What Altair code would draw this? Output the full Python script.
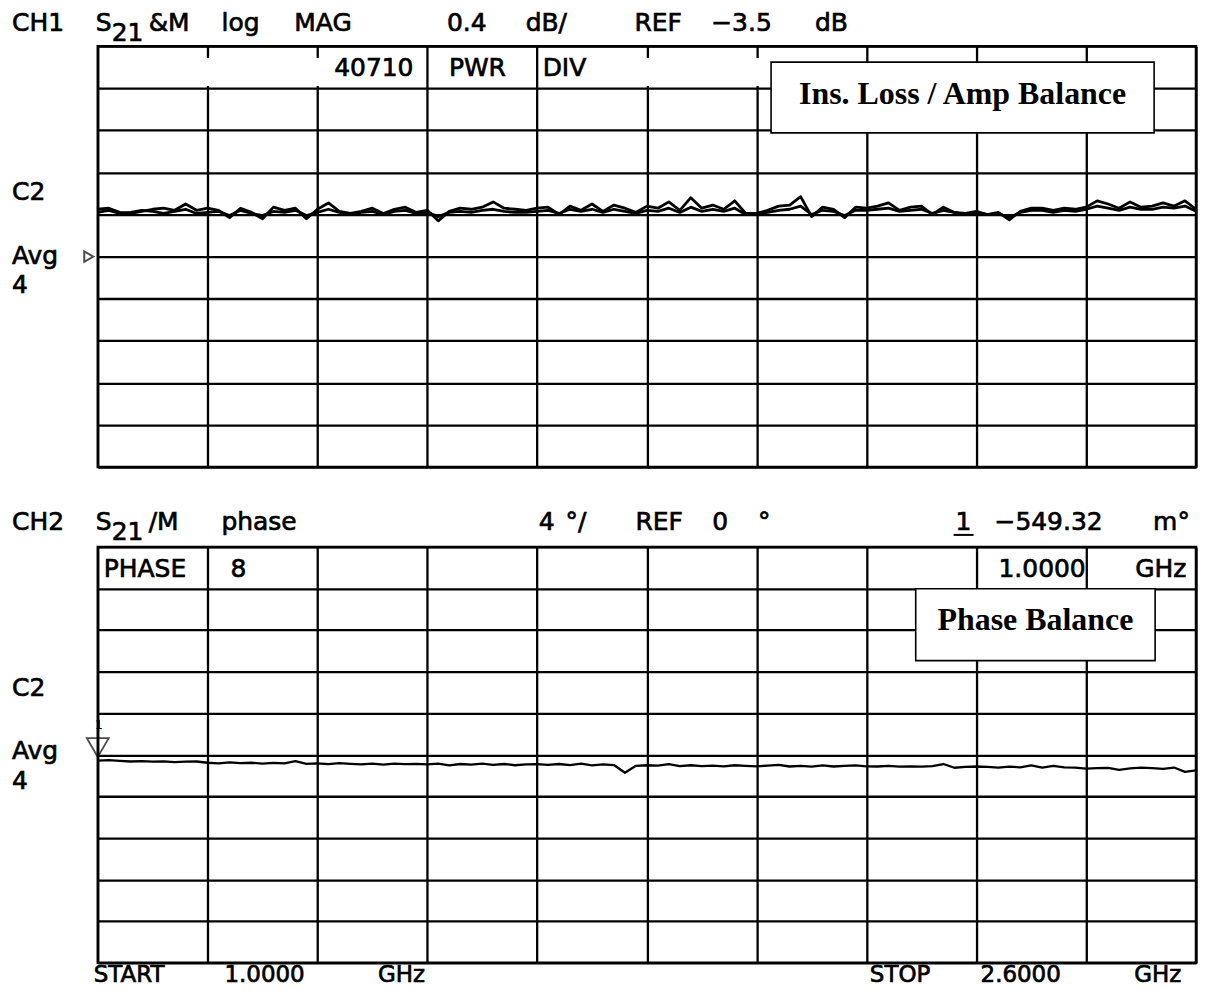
import altair as alt
import pandas as pd

# ---------------- data ----------------
START_GHZ = 1.0
STOP_GHZ = 2.6
N_POINTS = 101
freq_ghz = [round(START_GHZ + (STOP_GHZ - START_GHZ) * i / (N_POINTS - 1), 4) for i in range(N_POINTS)]

# CH1: S21 data trace (log MAG, dB)
mag_data = [
    -3.05, -3.04, -3.08, -3.09, -3.07, -3.05, -3.04, -3.06, -3.00, -3.06,
    -3.04, -3.06, -3.13, -3.04, -3.08, -3.14, -3.03, -3.06, -3.04, -3.14,
    -3.05, -2.99, -3.07, -3.09, -3.07, -3.04, -3.09, -3.05, -3.03, -3.08,
    -3.06, -3.16, -3.07, -3.04, -3.05, -3.03, -2.98, -3.04, -3.05, -3.06,
    -3.04, -3.03, -3.10, -3.02, -3.06, -3.00, -3.07, -3.01, -3.04, -3.08,
    -3.02, -3.04, -2.98, -3.06, -2.94, -3.04, -3.01, -3.05, -2.97, -3.09,
    -3.09, -3.06, -3.02, -3.01, -2.93, -3.12, -3.03, -3.05, -3.13, -3.03,
    -3.04, -3.02, -2.99, -3.06, -3.03, -3.02, -3.10, -3.03, -3.08, -3.09,
    -3.07, -3.10, -3.08, -3.15, -3.07, -3.04, -3.04, -3.06, -3.04, -3.05,
    -3.03, -2.97, -3.00, -3.04, -2.98, -3.03, -3.02, -2.99, -3.02, -2.97, -3.05,
]
# CH1: memory trace (M)
mag_memory = [
    -3.08, -3.06, -3.09, -3.08, -3.06, -3.07, -3.09, -3.07, -3.05, -3.09,
    -3.08, -3.07, -3.11, -3.06, -3.09, -3.11, -3.07, -3.08, -3.06, -3.11,
    -3.08, -3.05, -3.08, -3.10, -3.08, -3.07, -3.10, -3.07, -3.06, -3.09,
    -3.08, -3.12, -3.08, -3.07, -3.08, -3.06, -3.05, -3.07, -3.08, -3.08,
    -3.07, -3.06, -3.09, -3.05, -3.07, -3.05, -3.08, -3.05, -3.07, -3.09,
    -3.06, -3.07, -3.04, -3.08, -3.03, -3.07, -3.05, -3.07, -3.04, -3.10,
    -3.10, -3.08, -3.06, -3.05, -3.02, -3.10, -3.06, -3.07, -3.11, -3.06,
    -3.06, -3.05, -3.04, -3.07, -3.06, -3.05, -3.09, -3.06, -3.08, -3.10,
    -3.08, -3.10, -3.09, -3.13, -3.08, -3.06, -3.06, -3.08, -3.06, -3.07,
    -3.05, -3.02, -3.04, -3.06, -3.03, -3.05, -3.05, -3.03, -3.04, -3.02, -3.07,
]
# CH2: S21/M phase (degrees)
phase_deg = [
    -0.55, -0.50, -0.58, -0.64, -0.60, -0.66, -0.62, -0.70, -0.66, -0.64,
    -0.76, -0.82, -0.72, -0.80, -0.76, -0.84, -0.78, -0.82, -0.60, -0.86,
    -0.82, -0.90, -0.80, -0.86, -0.92, -0.84, -0.94, -0.84, -0.90, -0.86,
    -0.92, -0.84, -1.02, -0.88, -0.94, -0.84, -0.96, -0.88, -1.00, -0.92,
    -0.90, -0.96, -0.88, -0.98, -0.85, -1.02, -0.92, -0.98, -1.72, -1.05,
    -1.00, -1.04, -0.90, -1.08, -1.00, -1.08, -1.04, -1.10, -1.00, -1.06,
    -1.10, -1.04, -0.96, -1.12, -1.05, -1.14, -1.02, -1.12, -1.06, -1.02,
    -1.10, -1.12, -1.06, -1.14, -1.10, -1.14, -1.08, -0.88, -1.24, -1.16,
    -1.12, -1.16, -1.22, -1.14, -1.20, -1.00, -1.22, -1.06, -1.20, -1.22,
    -1.32, -1.28, -1.25, -1.44, -1.30, -1.22, -1.28, -1.34, -1.22, -1.64, -1.50,
]

MAG_REF, MAG_PER_DIV = -3.5, 0.4
PH_REF, PH_PER_DIV = 0.0, 4.0
N_DIV = 10
x_grid = [round(START_GHZ + (STOP_GHZ - START_GHZ) * k / N_DIV, 3) for k in range(N_DIV + 1)]
mag_grid = [round(MAG_REF + MAG_PER_DIV * (k - 5), 2) for k in range(N_DIV + 1)]
ph_grid = [round(PH_REF + PH_PER_DIV * (k - 5), 2) for k in range(N_DIV + 1)]

# ---------------- styling ----------------
FONT = "DejaVu Sans"
SERIF = "Liberation Serif"
W = 1101
H1, H2 = 422, 417


def label(txt, x, yc, size=25, align="left", font=FONT, weight="normal", stroke=0.7, cap=0.365):
    """Text whose cap-height centre sits at yc (alphabetic baseline)."""
    kw = dict(text=txt, align=align, baseline="alphabetic", font=font,
              fontSize=size, fontWeight=weight, color="black")
    if stroke > 0:
        kw.update(stroke="black", strokeWidth=stroke)
    return alt.Chart(alt.Data(values=[{}])).mark_text(**kw).encode(
        x=alt.value(x), y=alt.value(round(yc + cap * size, 1)))


def box(x1, x2, y1, y2, stroke=True):
    kw = dict(fill="white")
    if stroke:
        kw.update(stroke="black", strokeWidth=1.6)
    return alt.Chart(alt.Data(values=[{}])).mark_rect(**kw).encode(
        x=alt.value(x1), x2=alt.value(x2), y=alt.value(y1), y2=alt.value(y2))


def grid_axis(vals):
    return alt.Axis(values=vals, grid=True, labels=False, ticks=False,
                    domain=False, title="", gridColor="black",
                    gridWidth=2.3, gridOpacity=1)


def xenc():
    return alt.X("f:Q", scale=alt.Scale(domain=[START_GHZ, STOP_GHZ], nice=False, zero=False),
                 axis=grid_axis(x_grid))


# ---------------- CH1 panel ----------------
mag_df = pd.DataFrame({
    "f": freq_ghz * 2,
    "v": mag_data + mag_memory,
    "trace": ["data"] * N_POINTS + ["memory"] * N_POINTS,
})
yenc1 = alt.Y("v:Q", scale=alt.Scale(domain=[mag_grid[0], mag_grid[-1]], nice=False, zero=False),
              axis=grid_axis(mag_grid))
mag_lines = alt.Chart(mag_df).mark_line(color="black", strokeWidth=2.8, strokeJoin="round").encode(
    x=xenc(), y=yenc1, detail="trace:N")

ref_arrow = alt.Chart(alt.Data(values=[{}])).mark_point(
    shape="triangle-right", size=110, filled=False, color="black", strokeWidth=2
).encode(x=alt.value(-9), y=alt.value(H1 / 2))

top = alt.layer(
    box(54, 222, 12, 40, stroke=False),
    box(533, 676, 12, 40, stroke=False),
    mag_lines,
    box(675, 1059, 16, 87),
    label("Ins. Loss / Amp Balance", 867, 47, size=32, align="center", font=SERIF, weight="bold", stroke=0, cap=0.33),
    label("40710", 237, 21), label("PWR", 352, 21), label("DIV", 446, 21),
    label("CH1", -86, -24), label("S", -2, -24), label("21", 14, -14),
    label("&M", 51, -24), label("log", 124, -24), label("MAG", 197, -24),
    label("0.4", 350, -24), label("dB/", 429, -24),
    label("REF", 538, -24), label("\u22123.5", 615, -24), label("dB", 719, -24),
    label("C2", -86, 145), label("Avg", -86, 209), label("4", -86, 238),
    ref_arrow,
).properties(width=W, height=H1)

# ---------------- CH2 panel ----------------
ph_df = pd.DataFrame({"f": freq_ghz, "v": phase_deg})
yenc2 = alt.Y("v:Q", scale=alt.Scale(domain=[ph_grid[0], ph_grid[-1]], nice=False, zero=False),
              axis=grid_axis(ph_grid))
ph_line = alt.Chart(ph_df).mark_line(color="black", strokeWidth=2.3, strokeJoin="round").encode(
    x=xenc(), y=yenc2)
marker_df = pd.DataFrame({"f": [freq_ghz[0]], "v": [phase_deg[0]]})
marker = alt.Chart(marker_df).mark_point(
    shape="triangle-down", size=480, filled=False, color="black", strokeWidth=1.8, yOffset=-13
).encode(x=alt.X("f:Q"), y=alt.Y("v:Q"))
marker_num = alt.Chart(marker_df).mark_text(
    text="1", fontSize=13, font=FONT, fill="black", yOffset=-36, dx=1
).encode(x=alt.X("f:Q"), y=alt.Y("v:Q"))

underline = alt.Chart(alt.Data(values=[{}])).mark_rule(color="black", strokeWidth=2).encode(
    x=alt.value(858), x2=alt.value(878), y=alt.value(-12))

bottom = alt.layer(
    ph_line,
    marker, marker_num,
    box(820, 1060, 42, 114),
    label("Phase Balance", 940, 73, size=32, align="center", font=SERIF, weight="bold", stroke=0, cap=0.33),
    label("PHASE", 6, 21), label("8", 133, 21), label("1.0000", 903, 21), label("GHz", 1040, 21),
    label("CH2", -86, -26), label("S", -2, -26), label("21", 14, -16),
    label("/M", 51, -26), label("phase", 124, -26),
    label("4", 442, -26), label("\u00b0/", 469, -26),
    label("REF", 539, -26), label("0", 616, -26), label("\u00b0", 662, -26),
    label("1", 860, -26), underline, label("\u2212549.32", 899, -26), label("m\u00b0", 1058, -26),
    label("C2", -86, 140), label("Avg", -86, 204), label("4", -86, 234),
    label("START", -4, 428, size=23), label("1.0000", 127, 428, size=23), label("GHz", 281, 428, size=23),
    label("STOP", 774, 428, size=23), label("2.6000", 885, 428, size=23), label("GHz", 1039, 428, size=23),
).properties(width=W, height=H2)

chart = alt.vconcat(top, bottom, spacing=80, bounds="flush").properties(
    padding={"left": 2, "top": 0, "right": 0, "bottom": 0},
    background="white",
).configure_view(stroke="black", strokeWidth=2.5)

chart.save("out.html", embed_options={"renderer": "svg", "actions": False})
